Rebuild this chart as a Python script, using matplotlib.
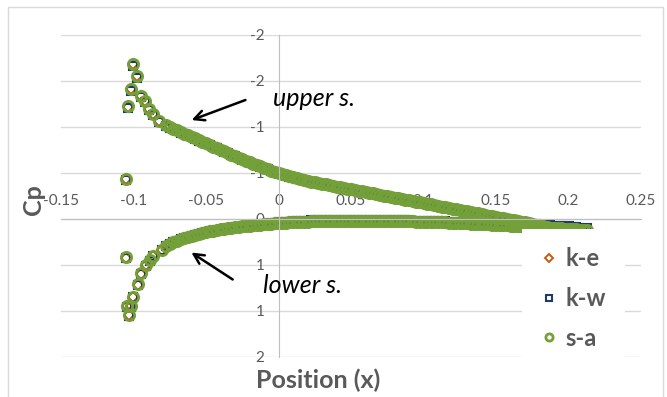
import matplotlib
matplotlib.use("Agg")
import matplotlib.pyplot as plt
from matplotlib.patches import Rectangle

plt.rcParams['font.family'] = ['Lato', 'DejaVu Sans']
plt.rcParams['axes.unicode_minus'] = False

# ---------------- data ----------------
x_ticks = [-0.15, -0.1, -0.05, 0, 0.05, 0.1, 0.15, 0.2, 0.25]
x_tick_labels = ["-0.15", "-0.1", "-0.05", "0", "0.05", "0.1", "0.15", "0.2", "0.25"]
y_ticks = [-2, -1.5, -1, -0.5, 0, 0.5, 1, 1.5]
y_tick_labels = ["-2", "-2", "-1", "-1", "0", "1", "1", "2"]

series_names = ["k-e", "k-w", "s-a"]

# leading-edge points
x_up_le = [-0.1052, -0.1036, -0.1019, -0.1006, -0.0978, -0.0950, -0.0921, -0.0891, -0.0863, -0.0824]
cp_up_le_sa = [-0.435, -1.228, -1.413, -1.685, -1.554, -1.340, -1.283, -1.196, -1.141, -1.065]
cp_up_le_kw = [-0.425, -1.210, -1.395, -1.665, -1.535, -1.325, -1.272, -1.185, -1.132, -1.058]
cp_up_le_ke = [-0.432, -1.222, -1.408, -1.680, -1.549, -1.336, -1.280, -1.193, -1.139, -1.063]

x_lo_le = [-0.1052, -0.1047, -0.1029, -0.1017, -0.1006, -0.0971, -0.0948, -0.0916, -0.0886, -0.0863, -0.0806]
cp_lo_le_sa = [0.417, 0.946, 1.043, 0.946, 0.844, 0.710, 0.590, 0.500, 0.446, 0.402, 0.337]
cp_lo_le_kw = [0.425, 0.955, 1.050, 0.955, 0.852, 0.718, 0.598, 0.507, 0.452, 0.407, 0.341]
cp_lo_le_ke = [0.420, 0.950, 1.046, 0.949, 0.847, 0.713, 0.593, 0.503, 0.448, 0.404, 0.339]

# remaining surface points (shared positions)
x_surf = [-0.0775, -0.075, -0.0725, -0.07, -0.0675, -0.065, -0.0625, -0.06, -0.0575, -0.055,
          -0.0525, -0.05, -0.0475, -0.045, -0.0425, -0.04, -0.0375, -0.035, -0.0325, -0.03,
          -0.0275, -0.025, -0.0225, -0.02, -0.0175, -0.015, -0.0125, -0.01, -0.0075, -0.005,
          -0.0025, 0.0, 0.0025, 0.005, 0.0075, 0.01, 0.0125, 0.015, 0.0175, 0.02,
          0.0225, 0.025, 0.0275, 0.03, 0.0325, 0.035, 0.0375, 0.04, 0.0425, 0.045,
          0.0475, 0.05, 0.0525, 0.055, 0.0575, 0.06, 0.0625, 0.065, 0.0675, 0.07,
          0.0725, 0.075, 0.0775, 0.08, 0.0825, 0.085, 0.0875, 0.09, 0.0925, 0.095,
          0.0975, 0.1, 0.1025, 0.105, 0.1075, 0.11, 0.1125, 0.115, 0.1175, 0.12,
          0.1225, 0.125, 0.1275, 0.13, 0.1325, 0.135, 0.1375, 0.14, 0.1425, 0.145,
          0.1475, 0.15, 0.1525, 0.155, 0.1575, 0.16, 0.1625, 0.165, 0.1675, 0.17,
          0.1725, 0.175, 0.1775, 0.18, 0.1825, 0.185, 0.1875, 0.19, 0.1925, 0.195,
          0.1975, 0.2, 0.2025, 0.205, 0.2075, 0.21, 0.2125]

cp_up_sa = [-1.018, -1.000, -0.982, -0.965, -0.947, -0.929, -0.912, -0.894, -0.876, -0.858,
            -0.841, -0.823, -0.806, -0.788, -0.771, -0.753, -0.736, -0.718, -0.700, -0.683,
            -0.666, -0.649, -0.633, -0.617, -0.601, -0.586, -0.571, -0.556, -0.541, -0.527,
            -0.513, -0.499, -0.486, -0.474, -0.463, -0.452, -0.442, -0.432, -0.423, -0.414,
            -0.406, -0.398, -0.390, -0.383, -0.375, -0.368, -0.360, -0.353, -0.345, -0.338,
            -0.330, -0.323, -0.315, -0.308, -0.300, -0.293, -0.285, -0.278, -0.270, -0.263,
            -0.255, -0.248, -0.240, -0.233, -0.225, -0.218, -0.210, -0.203, -0.195, -0.188,
            -0.180, -0.173, -0.165, -0.158, -0.150, -0.143, -0.135, -0.128, -0.120, -0.113,
            -0.105, -0.098, -0.090, -0.083, -0.075, -0.068, -0.060, -0.053, -0.045, -0.038,
            -0.030, -0.023, -0.015, -0.008, 0.000, 0.007, 0.015, 0.022, 0.030, 0.037,
            0.045, 0.052, 0.060, 0.068, 0.076, 0.085, 0.093, 0.102, 0.111, 0.120,
            0.129, 0.138, 0.147, 0.157, 0.166, 0.176, 0.186]

cp_up_kw = [-1.010, -0.992, -0.975, -0.958, -0.940, -0.923, -0.906, -0.888, -0.871, -0.853,
            -0.836, -0.818, -0.801, -0.784, -0.767, -0.749, -0.732, -0.715, -0.697, -0.680,
            -0.663, -0.646, -0.630, -0.614, -0.598, -0.583, -0.568, -0.553, -0.539, -0.525,
            -0.511, -0.497, -0.484, -0.472, -0.461, -0.450, -0.440, -0.430, -0.421, -0.412,
            -0.404, -0.396, -0.388, -0.381, -0.373, -0.366, -0.358, -0.351, -0.343, -0.336,
            -0.328, -0.321, -0.313, -0.306, -0.298, -0.291, -0.283, -0.276, -0.268, -0.261,
            -0.253, -0.246, -0.238, -0.231, -0.223, -0.216, -0.208, -0.201, -0.193, -0.186,
            -0.178, -0.171, -0.163, -0.156, -0.148, -0.141, -0.133, -0.126, -0.118, -0.111,
            -0.103, -0.096, -0.088, -0.081, -0.073, -0.066, -0.058, -0.051, -0.043, -0.036,
            -0.028, -0.021, -0.013, -0.006, 0.002, 0.009, 0.016, 0.023, 0.030, 0.037,
            0.044, 0.051, 0.058, 0.066, 0.074, 0.082, 0.090, 0.098, 0.106, 0.114,
            0.122, 0.130, 0.138, 0.146, 0.154, 0.160, 0.166]

cp_up_ke = [-1.016, -0.998, -0.980, -0.963, -0.945, -0.927, -0.910, -0.892, -0.874, -0.856,
            -0.839, -0.821, -0.804, -0.786, -0.769, -0.751, -0.734, -0.716, -0.698, -0.681,
            -0.664, -0.647, -0.631, -0.615, -0.599, -0.584, -0.569, -0.554, -0.539, -0.525,
            -0.511, -0.497, -0.484, -0.472, -0.461, -0.450, -0.440, -0.430, -0.421, -0.412,
            -0.404, -0.396, -0.388, -0.381, -0.373, -0.366, -0.358, -0.351, -0.343, -0.336,
            -0.328, -0.321, -0.313, -0.306, -0.298, -0.291, -0.283, -0.276, -0.268, -0.261,
            -0.253, -0.246, -0.238, -0.231, -0.223, -0.216, -0.208, -0.201, -0.193, -0.186,
            -0.178, -0.171, -0.163, -0.156, -0.148, -0.141, -0.133, -0.126, -0.118, -0.111,
            -0.103, -0.096, -0.088, -0.081, -0.073, -0.066, -0.058, -0.051, -0.043, -0.036,
            -0.028, -0.021, -0.013, -0.006, 0.002, 0.009, 0.017, 0.024, 0.032, 0.039,
            0.047, 0.054, 0.062, 0.070, 0.078, 0.087, 0.095, 0.104, 0.113, 0.122,
            0.131, 0.140, 0.149, 0.159, 0.168, 0.178, 0.188]

cp_lo_sa = [0.295, 0.272, 0.252, 0.235, 0.219, 0.205, 0.192, 0.180, 0.169, 0.159,
            0.150, 0.141, 0.133, 0.126, 0.119, 0.113, 0.107, 0.101, 0.096, 0.091,
            0.086, 0.081, 0.077, 0.072, 0.068, 0.064, 0.060, 0.057, 0.053, 0.050,
            0.047, 0.044, 0.041, 0.039, 0.037, 0.035, 0.033, 0.031, 0.029, 0.028,
            0.026, 0.025, 0.024, 0.023, 0.022, 0.021, 0.020, 0.020, 0.019, 0.019,
            0.018, 0.018, 0.018, 0.018, 0.018, 0.018, 0.018, 0.019, 0.019, 0.020,
            0.020, 0.021, 0.022, 0.022, 0.023, 0.024, 0.025, 0.026, 0.027, 0.028,
            0.029, 0.030, 0.031, 0.033, 0.034, 0.035, 0.037, 0.038, 0.040, 0.041,
            0.043, 0.044, 0.046, 0.047, 0.049, 0.051, 0.053, 0.055, 0.057, 0.059,
            0.061, 0.063, 0.065, 0.067, 0.069, 0.071, 0.073, 0.075, 0.077, 0.079,
            0.081, 0.083, 0.085, 0.087, 0.089, 0.091, 0.094, 0.096, 0.099, 0.102,
            0.105, 0.108, 0.111, 0.114, 0.117, 0.120, 0.123]

cp_lo_kw = [0.298, 0.275, 0.255, 0.238, 0.222, 0.208, 0.194, 0.182, 0.171, 0.161,
            0.152, 0.143, 0.135, 0.128, 0.121, 0.115, 0.109, 0.103, 0.097, 0.092,
            0.087, 0.082, 0.077, 0.072, 0.067, 0.062, 0.057, 0.053, 0.049, 0.045,
            0.041, 0.037, 0.034, 0.031, 0.028, 0.026, 0.024, 0.022, 0.020, 0.018,
            0.016, 0.015, 0.014, 0.013, 0.012, 0.011, 0.010, 0.010, 0.009, 0.009,
            0.008, 0.008, 0.008, 0.008, 0.008, 0.008, 0.008, 0.009, 0.009, 0.010,
            0.010, 0.011, 0.012, 0.012, 0.013, 0.014, 0.015, 0.016, 0.017, 0.018,
            0.019, 0.020, 0.021, 0.022, 0.023, 0.024, 0.026, 0.027, 0.028, 0.029,
            0.031, 0.032, 0.033, 0.034, 0.036, 0.037, 0.039, 0.040, 0.042, 0.043,
            0.045, 0.046, 0.048, 0.049, 0.051, 0.052, 0.054, 0.055, 0.057, 0.058,
            0.060, 0.061, 0.063, 0.064, 0.066, 0.067, 0.069, 0.071, 0.073, 0.075,
            0.077, 0.080, 0.083, 0.086, 0.101, 0.104, 0.102]

cp_lo_ke = [0.297, 0.274, 0.254, 0.237, 0.221, 0.207, 0.194, 0.182, 0.171, 0.161,
            0.152, 0.143, 0.135, 0.128, 0.121, 0.115, 0.109, 0.103, 0.098, 0.093,
            0.088, 0.083, 0.078, 0.073, 0.069, 0.065, 0.061, 0.058, 0.054, 0.051,
            0.048, 0.045, 0.042, 0.040, 0.038, 0.036, 0.034, 0.032, 0.030, 0.029,
            0.027, 0.026, 0.025, 0.024, 0.023, 0.022, 0.021, 0.021, 0.020, 0.020,
            0.019, 0.019, 0.019, 0.019, 0.019, 0.019, 0.019, 0.020, 0.020, 0.021,
            0.021, 0.022, 0.023, 0.023, 0.024, 0.025, 0.026, 0.027, 0.028, 0.029,
            0.030, 0.031, 0.032, 0.034, 0.035, 0.036, 0.038, 0.039, 0.041, 0.042,
            0.044, 0.045, 0.047, 0.048, 0.050, 0.052, 0.054, 0.056, 0.058, 0.060,
            0.062, 0.064, 0.066, 0.068, 0.070, 0.072, 0.074, 0.076, 0.078, 0.080,
            0.082, 0.084, 0.086, 0.088, 0.090, 0.092, 0.095, 0.097, 0.100, 0.103,
            0.106, 0.109, 0.112, 0.115, 0.118, 0.121, 0.124]

# ---------------- style ----------------
colors = {"k-e": "#C55A11", "k-w": "#203864", "s-a": "#74A03A"}
markers = {"k-e": "D", "k-w": "s", "s-a": "o"}
msizes = {"k-e": 5.6, "k-w": 6.0, "s-a": 7.4}
mews = {"k-e": 1.4, "k-w": 1.5, "s-a": 2.0}

data = {
    "k-e": (cp_up_le_ke, cp_up_ke, cp_lo_le_ke, cp_lo_ke),
    "k-w": (cp_up_le_kw, cp_up_kw, cp_lo_le_kw, cp_lo_kw),
    "s-a": (cp_up_le_sa, cp_up_sa, cp_lo_le_sa, cp_lo_sa),
}

W, H = 667, 397
fig = plt.figure(figsize=(W / 100, H / 100), dpi=100)
fig.patch.set_facecolor("white")

left_px, right_px, top_px, bot_px = 61, 641, 35, 357
ax = fig.add_axes([left_px / W, 1 - bot_px / H, (right_px - left_px) / W, (bot_px - top_px) / H])

for name in series_names:
    up_le, up, lo_le, lo = data[name]
    xs = x_up_le + x_surf + x_lo_le + x_surf
    ys = up_le + up + lo_le + lo
    ax.plot(xs, ys, linestyle="none", marker=markers[name], markersize=msizes[name],
            markerfacecolor="none", markeredgecolor=colors[name], markeredgewidth=mews[name],
            label=name)

ax.set_xlim(-0.15, 0.25)
ax.set_ylim(1.5, -2)

grid_c = "#D9D9D9"
axis_c = "#BFBFBF"
txt_c = "#595959"

ax.set_yticks(y_ticks)
ax.set_yticklabels(y_tick_labels)
ax.set_xticks(x_ticks)
ax.set_xticklabels(x_tick_labels)
ax.yaxis.grid(True, color=grid_c, linewidth=1.0)
ax.xaxis.grid(False)
ax.set_axisbelow(True)

for s in ["bottom", "right"]:
    ax.spines[s].set_visible(False)
ax.spines["left"].set_position(("data", 0))
ax.spines["left"].set_color(axis_c)
ax.spines["top"].set_position(("data", 0))
ax.spines["top"].set_color(axis_c)
ax.xaxis.set_ticks_position("top")
ax.tick_params(axis="both", length=0, colors=txt_c, labelsize=11)
ax.tick_params(axis="x", pad=8)
ax.tick_params(axis="y", pad=10)

# axis titles
fig.text(34 / W, 1 - 200 / H, "Cp", rotation=90, ha="center", va="center",
         fontsize=18, fontweight="bold", color=txt_c)
fig.text(318 / W, 1 - 380 / H, "Position (x)", ha="center", va="center",
         fontsize=18, fontweight="bold", color=txt_c)

# annotations
ax.annotate("", xy=(-0.0617, -1.065), xytext=(-0.021, -1.304),
            arrowprops=dict(arrowstyle="->", color="black", lw=1.8, mutation_scale=18))
ax.annotate("", xy=(-0.0617, 0.348), xytext=(-0.030, 0.674),
            arrowprops=dict(arrowstyle="->", color="black", lw=1.8, mutation_scale=18))
ax.text(-0.0038, -1.228, "upper s.", fontsize=18, style="italic", color="black",
        ha="left", va="baseline")
ax.text(-0.0107, 0.808, "lower s.", fontsize=18, style="italic", color="black",
        ha="left", va="baseline")

leg = ax.legend(loc="center left", bbox_to_anchor=(522 / W, 1 - 298.5 / H),
                bbox_transform=fig.transFigure, frameon=True, fancybox=False,
                facecolor="white", edgecolor="none", framealpha=1,
                borderaxespad=0, borderpad=0.8, handlelength=0.7, handletextpad=0.35,
                labelspacing=0.7, markerscale=0.7,
                prop={"family": "Lato", "weight": "bold", "size": 17})
for t in leg.get_texts():
    t.set_color(txt_c)

# outer border
fig.add_artist(Rectangle((8 / W, -0.01), (663 - 8) / W, 1.01 - 7 / H, transform=fig.transFigure,
                         fill=False, edgecolor=grid_c, linewidth=1.0))

fig.savefig("out.png", dpi=100)
